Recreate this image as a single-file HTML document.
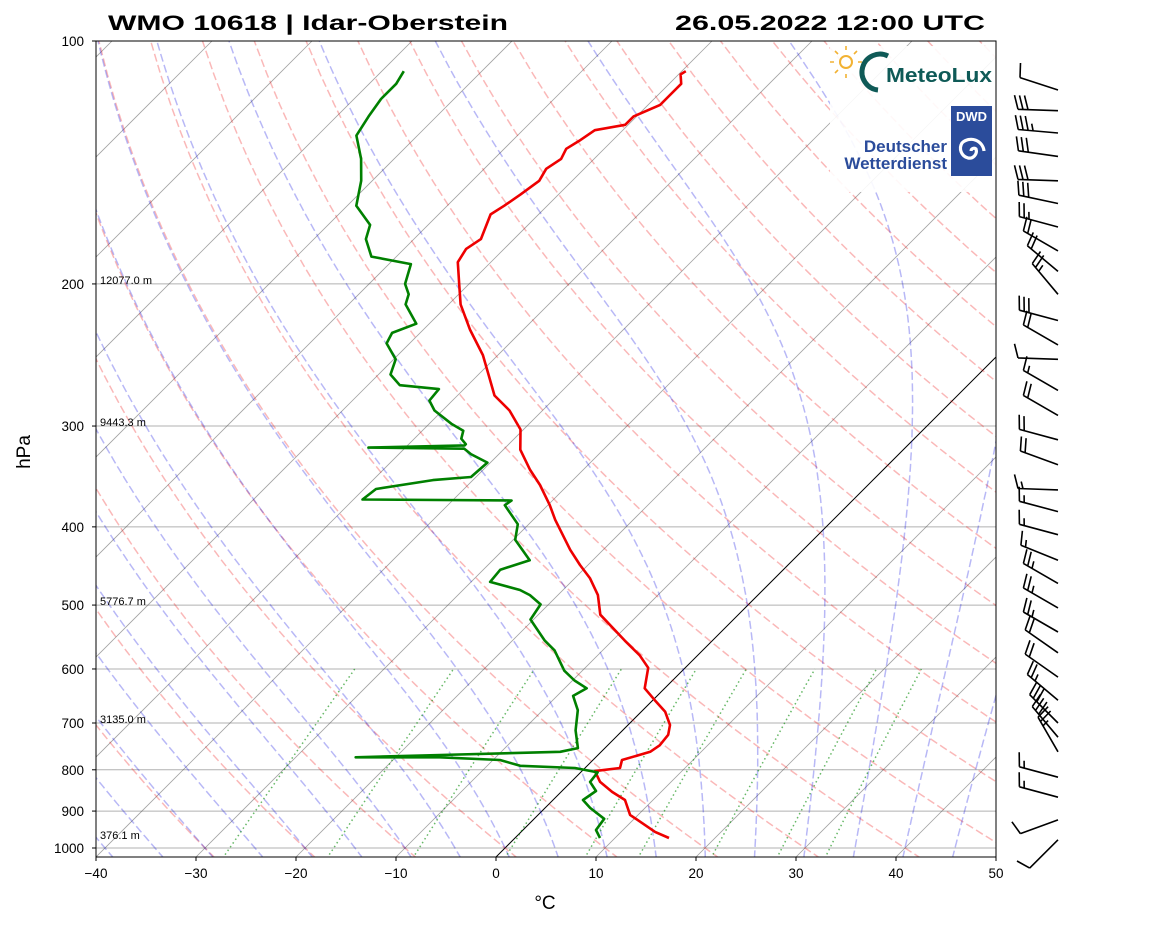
<!DOCTYPE html>
<html><head><meta charset="utf-8"><style>
html,body{margin:0;padding:0;background:#fff}
svg{display:block;font-family:"Liberation Sans","DejaVu Sans",sans-serif}
</style></head><body>
<svg id="chart" width="1160" height="925" viewBox="0 0 1160 925" xmlns="http://www.w3.org/2000/svg">
<defs><clipPath id="plotclip"><rect x="96" y="41" width="900" height="816"/></clipPath></defs>
<rect x="0" y="0" width="1160" height="925" fill="#fff"/>
<g id="bg" clip-path="url(#plotclip)"></g>
<g id="series" clip-path="url(#plotclip)"></g>
<g id="hlabels"></g>
<g>
<rect x="830" y="46" width="166" height="146" fill="#fff" opacity="0.9"/>
<g>
<circle cx="846" cy="62" r="6" fill="none" stroke="#f2b233" stroke-width="2"/>
<path d="M846 50v-4M846 74v4M834 62h-4M858 62h4M838 54l-3-3M854 54l3-3M838 70l-3 3" stroke="#f2b233" stroke-width="1.6"/>
<path d="M878 90 A18 18 0 1 1 888 56" fill="none" stroke="#0f5a57" stroke-width="5"/>
<text x="886" y="82" font-size="20" font-weight="bold" fill="#0f5a57" textLength="106" lengthAdjust="spacingAndGlyphs">MeteoLux</text>
</g>
<g>
<rect x="951" y="106" width="41" height="70" fill="#2b4c9b"/>
<text x="971.5" y="121" font-size="13" font-weight="bold" fill="#fff" text-anchor="middle">DWD</text>
<path d="M971 151 a3 3 0 0 1 5 -2 a7 7 0 0 1 -8 9 a10 10 0 0 1 -6 -15 a13 13 0 0 1 22 8" fill="none" stroke="#fff" stroke-width="3.2"/>
<text x="947" y="152" font-size="17" font-weight="bold" fill="#2b4c9b" text-anchor="end">Deutscher</text>
<text x="947" y="169" font-size="17" font-weight="bold" fill="#2b4c9b" text-anchor="end">Wetterdienst</text>
</g>
</g>
<rect x="96" y="41" width="900" height="816" fill="none" stroke="#000" stroke-width="1"/>
<g id="axes"></g>
<g id="barbs"></g>
<text x="108" y="30" font-size="21" font-weight="bold" textLength="400" lengthAdjust="spacingAndGlyphs">WMO 10618 | Idar-Oberstein</text>
<text x="675" y="30" font-size="21" font-weight="bold" textLength="310" lengthAdjust="spacingAndGlyphs">26.05.2022 12:00 UTC</text>
<text x="545" y="909" font-size="19" text-anchor="middle">°C</text>
<text x="30" y="452" font-size="19" text-anchor="middle" transform="rotate(-90 30 452)">hPa</text>
</svg>
<script>
// ---- data ----
const tempP=[972,955,910,872,852,828,803,796,778,760,746,724,704,678,656,634,598,577,553,514,486,463,446,427,392,376,355,340,321,303,287,275,259,245,228,212,201,188,181,176,164,160,155,149,144,140,136,133,129,127,124,120,117,113,110,109];
const tempT=[15.4,13.4,9.2,7.2,5.1,2.9,1.3,3.5,2.9,4.9,5.2,5.0,4.2,2.4,0.2,-2.0,-3.7,-5.8,-8.8,-13.8,-16.0,-18.5,-20.8,-23.3,-27.8,-29.8,-32.8,-35.3,-38.3,-40.3,-43.3,-46.3,-49.0,-51.5,-55.3,-58.8,-60.8,-63.3,-63.8,-63.3,-64.8,-64.3,-63.8,-63.3,-63.8,-63.3,-63.8,-63.3,-62.8,-60.3,-60.3,-58.8,-58.8,-58.8,-59.8,-59.6];
const dewP=[972,950,920,892,872,850,828,806,796,791,778,772,772,767,760,752,715,675,648,634,620,603,569,553,521,499,486,479,468,452,440,415,397,376,371,370,359,350,347,333,325,320,319,317,316,311,304,298,287,279,270,267,259,248,237,230,224,212,206,200,189,185,176,169,160,149,140,131,124,118,113,109];
const dewT=[8.5,7.3,7.0,4.5,3.0,3.4,1.9,1.7,-1.0,-6.7,-9.3,-15.6,-24.0,-15.8,-4.1,-2.7,-4.7,-6.5,-8.4,-7.8,-9.8,-11.8,-14.8,-16.8,-20.3,-20.8,-22.8,-24.3,-28.1,-28.3,-26.3,-29.8,-31.1,-34.3,-34.1,-49.1,-48.8,-44.0,-40.5,-40.3,-42.8,-44.0,-53.7,-44.3,-44.3,-45.3,-45.9,-47.8,-50.8,-52.3,-52.5,-56.8,-58.8,-59.8,-62.3,-62.8,-61.3,-64.3,-65.0,-66.4,-67.8,-72.5,-74.8,-75.8,-79.1,-81.1,-83.3,-86.1,-86.8,-87.3,-87.3,-87.8];
const heightP=[200,300,500,700,972];
const heightVal=["12077.0 m","9443.3 m","5776.7 m","3135.0 m","376.1 m"];
const windP=[115,122,130,139,149,159,170,182,193,206,222,238,248,271,291,312,335,360,383,409,440,470,504,540,573,614,656,700,729,760,817,865,923,977];
const windDir=[288,272,275,278,272,282,285,300,310,320,285,300,272,300,300,285,290,272,285,285,292,300,300,300,305,305,310,315,320,330,285,285,250,225];
const windSpd=[10,30,35,30,30,30,25,20,20,25,30,20,10,15,20,20,20,15,15,15,15,25,25,25,20,20,25,30,30,25,15,15,10,10];
const pTicks=[100,200,300,400,500,600,700,800,900,1000];
const tTicks=[-40,-30,-20,-10,0,10,20,30,40,50];
const dryTheta=[-30,-20,-10,0,10,20,30,40,50,60,70,80,90,100,110,120,130,140,150,160,170,180,190];
const moistT0=[-40,-35,-30,-25,-20,-15,-10,-5,0,5,10,15,20,25,30,35,40,45];
const mixW=[0.0004,0.001,0.002,0.004,0.007,0.01,0.016,0.024,0.032];
// ---- scales ----
const NS="http://www.w3.org/2000/svg";
const PBOT=1030;
function yP(p){return 41+807*Math.log10(p/100);}
function xT(T,p){return 96+(T+40)*10+(857-yP(p));}
function mk(tag,attrs,parent){const e=document.createElementNS(NS,tag);for(const k in attrs)e.setAttribute(k,attrs[k]);parent.appendChild(e);return e;}
function pathFrom(pts){return pts.map((q,i)=>(i?'L':'M')+q[0].toFixed(1)+' '+q[1].toFixed(1)).join('');}
const bg=document.getElementById('bg'),series=document.getElementById('series'),axes=document.getElementById('axes'),barbs=document.getElementById('barbs'),hl=document.getElementById('hlabels');
// pressure grid
pTicks.forEach(p=>{const l=mk('line',{x1:96,x2:996,y1:yP(p),y2:yP(p),stroke:'#b0b0b0','stroke-width':1},bg);

});
// isotherms
for(let T=-130;T<=50;T+=10){const l=mk('line',{x1:xT(T,PBOT),y1:yP(PBOT),x2:xT(T,100),y2:yP(100),stroke:T===0?'#000':'#555','stroke-width':T===0?1:0.8,'stroke-opacity':T===0?1:0.55},bg);

}
// dry adiabats
dryTheta.forEach(th=>{const pts=[];for(let p=PBOT;p>=100;p-=10){const T=(th+273.15)*Math.pow(p/1000,0.2857)-273.15;pts.push([xT(T,p),yP(p)]);}
const e=mk('path',{d:pathFrom(pts),fill:'none',stroke:'#e00','stroke-opacity':0.28,'stroke-width':1.5,'stroke-dasharray':'8 3.5'},bg);

});
// moist adiabats
function dTdp(p,T){const es=6.112*Math.exp(17.67*(T-273.15)/(T-29.65));const rs=0.622*es/(p-es);const Rd=287.04,Cp=1005.7,Lv=2.501e6;return (Rd*T+Lv*rs)/(p*(Cp+Lv*Lv*rs*0.622/(Rd*T*T)));}
function integ(T0,p0,p1,dp){const pts=[];let T=T0+273.15,p=p0;pts.push([p,T]);const n=Math.round(Math.abs(p1-p0)/dp),h=(p1-p0)/n;for(let i=0;i<n;i++){const k1=dTdp(p,T),k2=dTdp(p+h/2,T+h/2*k1),k3=dTdp(p+h/2,T+h/2*k2),k4=dTdp(p+h,T+h*k3);T+=h/6*(k1+2*k2+2*k3+k4);p+=h;pts.push([p,T]);}return pts;}
moistT0.forEach(t0=>{const up=integ(t0,1000,100,4),dn=integ(t0,1000,PBOT,2);const all=dn.reverse().concat(up.slice(1));
const e=mk('path',{d:pathFrom(all.map(q=>[xT(q[1]-273.15,q[0]),yP(q[0])])),fill:'none',stroke:'#00d','stroke-opacity':0.28,'stroke-width':1.5,'stroke-dasharray':'8 3.5'},bg);

});
// mixing ratio lines
mixW.forEach(w=>{const pts=[];for(let p=PBOT;p>=600;p-=10){const e=w*p/(0.622+w);const l=Math.log(e/6.112);const Td=243.5*l/(17.67-l);pts.push([xT(Td,p),yP(p)]);}
const e=mk('path',{d:pathFrom(pts),fill:'none',stroke:'#080','stroke-opacity':0.6,'stroke-width':1.5,'stroke-dasharray':'1.5 3'},bg);

});
// series
const tl=mk('path',{d:pathFrom(tempP.map((p,i)=>[xT(tempT[i],p),yP(p)])),fill:'none',stroke:'#e00','stroke-width':2.6,'stroke-linejoin':'round'},series);


const dl=mk('path',{d:pathFrom(dewP.map((p,i)=>[xT(dewT[i],p),yP(p)])),fill:'none',stroke:'#008000','stroke-width':2.6,'stroke-linejoin':'round'},series);


// height labels
heightP.forEach((p,i)=>{const t=mk('text',{x:100,y:yP(p)+(i===4?1:0),'font-size':11},hl);t.textContent=heightVal[i];

});
// axes ticks
pTicks.forEach(p=>{mk('line',{x1:92,x2:96,y1:yP(p),y2:yP(p),stroke:'#000'},axes);
const t=mk('text',{x:84,y:yP(p)+5,'font-size':13.5,'text-anchor':'end'},axes);t.textContent=p;

});
tTicks.forEach(T=>{const x=96+(T+40)*10;mk('line',{x1:x,x2:x,y1:857,y2:861,stroke:'#000'},axes);
const t=mk('text',{x:x,y:878,'font-size':13.5,'text-anchor':'middle'},axes);t.textContent=String(T).replace('-','\u2212');

});
// wind barbs
windP.forEach((p,i)=>{const d=windDir[i]*Math.PI/180;const sx=Math.sin(d),sy=-Math.cos(d);const bx=-sy,by=sx;
const tx=1058,ty=yP(p),L=40;const ex=tx+sx*L,ey=ty+sy*L;let s='M'+tx+' '+ty.toFixed(1)+'L'+ex.toFixed(1)+' '+ey.toFixed(1);
let sp=Math.round(windSpd[i]/5)*5;let pos=0;
while(sp>=50){const ax=ex-sx*pos,ay=ey-sy*pos;s+='M'+ax.toFixed(1)+' '+ay.toFixed(1)+'L'+(ax+bx*14).toFixed(1)+' '+(ay+by*14).toFixed(1)+'L'+(ax-sx*6).toFixed(1)+' '+(ay-sy*6).toFixed(1);pos+=8;sp-=50;}
while(sp>=10){const ax=ex-sx*pos,ay=ey-sy*pos;s+='M'+ax.toFixed(1)+' '+ay.toFixed(1)+'l'+(bx*14+sx*4).toFixed(1)+' '+(by*14+sy*4).toFixed(1);pos+=5;sp-=10;}
if(sp>=5){if(pos===0)pos=5;const ax=ex-sx*pos,ay=ey-sy*pos;s+='M'+ax.toFixed(1)+' '+ay.toFixed(1)+'l'+(bx*7+sx*2).toFixed(1)+' '+(by*7+sy*2).toFixed(1);}
const e=mk('path',{d:s,fill:'none',stroke:'#000','stroke-width':1.6},barbs);

});
</script>
</body></html>
